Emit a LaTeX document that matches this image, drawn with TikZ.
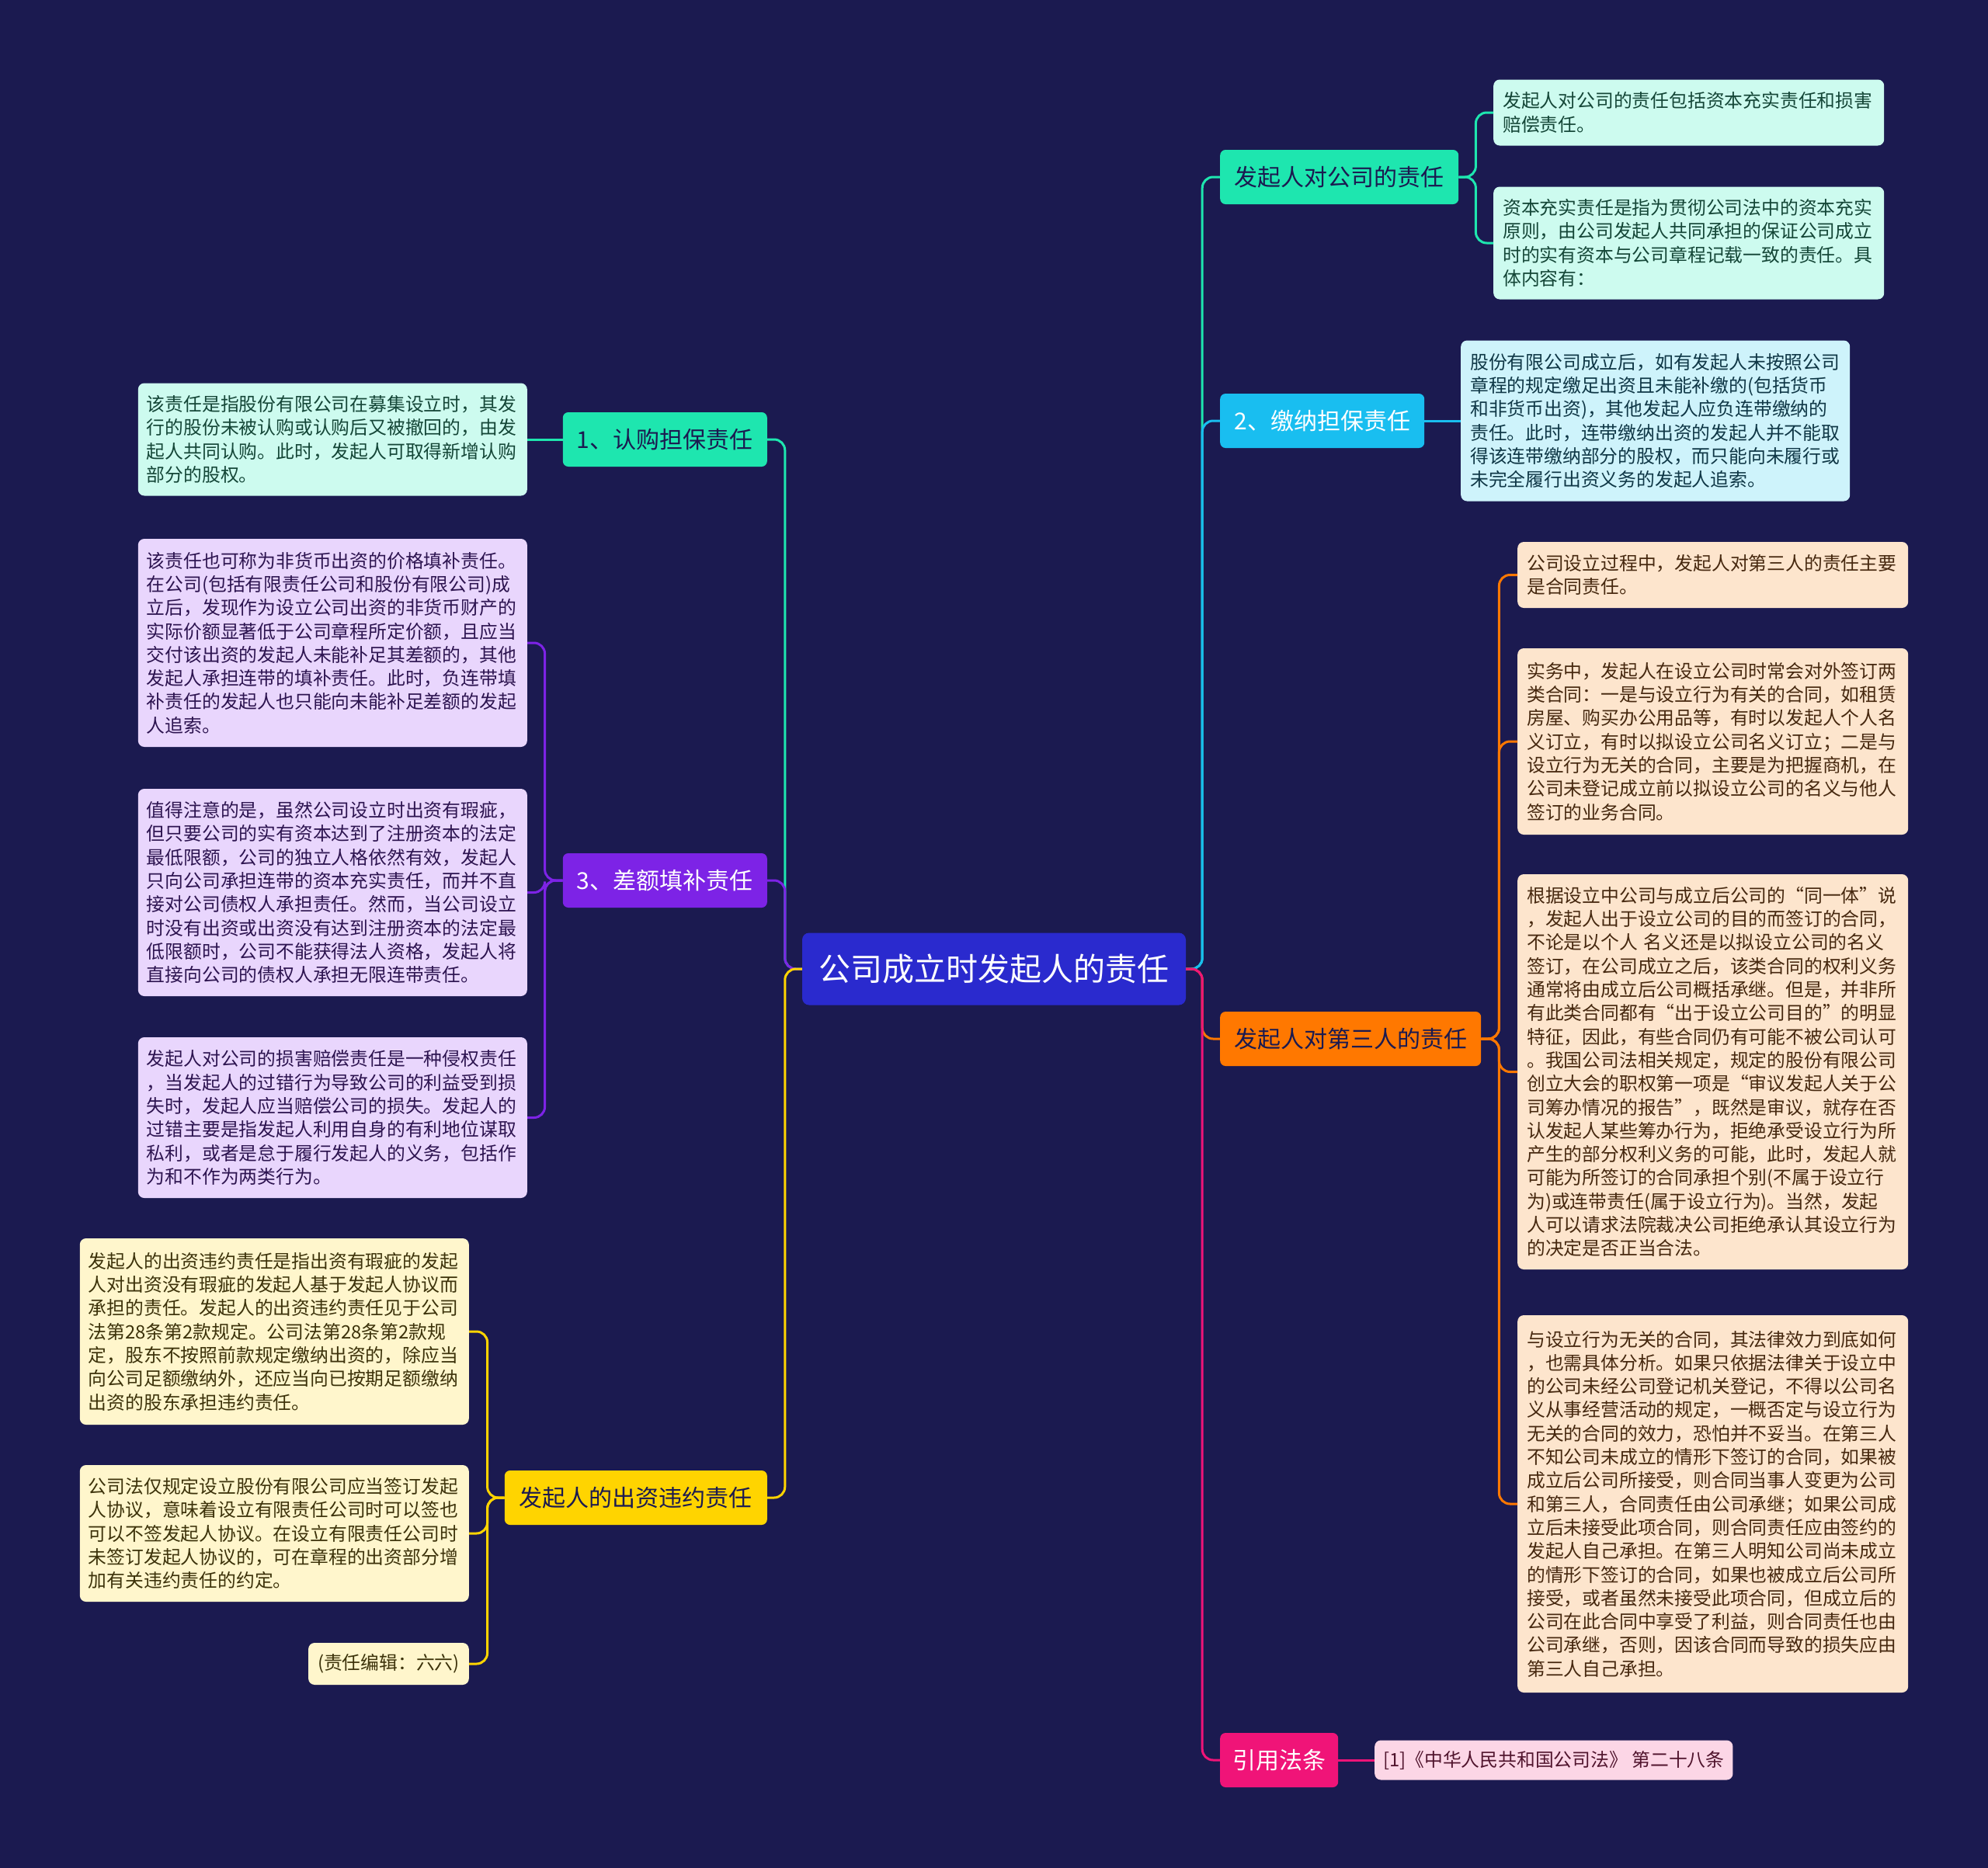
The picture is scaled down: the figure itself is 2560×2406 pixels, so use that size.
\documentclass[tikz,border=0pt]{standalone}
\usepackage{fontspec}
\setmainfont{Noto Sans CJK SC}

% 颜色
\definecolor{bgnavy}{RGB}{27,26,80}
\definecolor{rootblue}{RGB}{42,42,206}
\definecolor{shen}{RGB}{27,26,80}
\definecolor{qing}{RGB}{30,230,175}
\definecolor{lan}{RGB}{25,190,240}
\definecolor{cheng}{RGB}{255,120,0}
\definecolor{hong}{RGB}{240,20,120}
\definecolor{zi}{RGB}{125,35,230}
\definecolor{huang}{RGB}{255,212,0}
\definecolor{qingye}{RGB}{205,251,239}
\definecolor{qingzi}{RGB}{20,70,55}
\definecolor{lanye}{RGB}{206,243,251}
\definecolor{lanzi}{RGB}{15,55,70}
\definecolor{ziye}{RGB}{233,214,253}
\definecolor{zizi}{RGB}{45,20,80}
\definecolor{huangye}{RGB}{255,246,204}
\definecolor{huangzi}{RGB}{60,50,10}
\definecolor{chengye}{RGB}{253,229,205}
\definecolor{chengzi}{RGB}{70,40,15}
\definecolor{hongye}{RGB}{252,214,230}
\definecolor{hongzi}{RGB}{80,20,45}

\tikzset{
  zhuti/.style={rounded corners=9, fill=rootblue, text=white, minimum width=494,
    minimum height=93, font=\fontsize{41}{48}\selectfont},
  fenzhi/.style={rounded corners=7, minimum height=70, inner xsep=14,
    font=\fontsize{30}{36}\selectfont},
  yezi/.style={rounded corners=8, align=left, inner xsep=11,
    font=\fontsize{23.8}{30.3}\selectfont},
  lian/.style={line width=3, rounded corners=14},
}

\begin{document}
\begin{tikzpicture}[x=1pt, y=-1pt]
    % 背景
    \fill[bgnavy] (0,0) rectangle (2560,2406);
    \useasboundingbox (0,0) rectangle (2560,2406);

    % 中心主题
    \node[zhuti] (root) at (1280,1248) {公司成立时发起人的责任};

    % 右侧分支
    \node[fenzhi, fill=qing, text=shen, minimum width=307, anchor=west] (gongsi) at (1571,228) {发起人对公司的责任};
    \node[fenzhi, fill=lan, text=white, minimum width=263, anchor=west] (jiaona) at (1571,542) {2、缴纳担保责任};
    \node[fenzhi, fill=cheng, text=shen, minimum width=336, anchor=west] (disan) at (1571,1338) {发起人对第三人的责任};
    \node[fenzhi, fill=hong, text=white, minimum width=152, anchor=west] (fatiao) at (1571,2267) {引用法条};

    % 左侧分支
    \node[fenzhi, fill=qing, text=shen, minimum width=263, anchor=east] (rengou) at (988,566) {1、认购担保责任};
    \node[fenzhi, fill=zi, text=white, minimum width=263, anchor=east] (chae) at (988,1134) {3、差额填补责任};
    \node[fenzhi, fill=huang, text=shen, minimum width=338, anchor=east] (weiyue) at (988,1929) {发起人的出资违约责任};

    % 右侧叶子
    \node[yezi, fill=qingye, text=qingzi, text width=479, inner xsep=12,
          minimum height=85, anchor=west] (gongsiA) at (1923,145)
        {发起人对公司的责任包括资本充实责任和损害\\赔偿责任。};
    \node[yezi, fill=qingye, text=qingzi, text width=479, inner xsep=12,
          minimum height=145, anchor=west] (gongsiB) at (1923,313)
        {资本充实责任是指为贯彻公司法中的资本充实\\原则，由公司发起人共同承担的保证公司成立\\时的实有资本与公司章程记载一致的责任。具\\体内容有：};
    \node[yezi, fill=lanye, text=lanzi, text width=477, inner xsep=12,
          minimum height=207, anchor=west] (jiaonaA) at (1881,542)
        {股份有限公司成立后，如有发起人未按照公司\\章程的规定缴足出资且未能补缴的(包括货币\\和非货币出资)，其他发起人应负连带缴纳的\\责任。此时，连带缴纳出资的发起人并不能取\\得该连带缴纳部分的股权，而只能向未履行或\\未完全履行出资义务的发起人追索。};
    \node[yezi, fill=chengye, text=chengzi, text width=479, inner xsep=12,
          minimum height=85, anchor=west] (disanA) at (1954,740.5)
        {公司设立过程中，发起人对第三人的责任主要\\是合同责任。};
    \node[yezi, fill=chengye, text=chengzi, text width=479, inner xsep=12,
          minimum height=240, anchor=west] (disanB) at (1954,955)
        {实务中，发起人在设立公司时常会对外签订两\\类合同：一是与设立行为有关的合同，如租赁\\房屋、购买办公用品等，有时以发起人个人名\\义订立，有时以拟设立公司名义订立；二是与\\设立行为无关的合同，主要是为把握商机，在\\公司未登记成立前以拟设立公司的名义与他人\\签订的业务合同。};
    \node[yezi, fill=chengye, text=chengzi, text width=479, inner xsep=12,
          minimum height=509, anchor=west] (disanC) at (1954,1380.5)
        {根据设立中公司与成立后公司的“同一体”说\\，发起人出于设立公司的目的而签订的合同，\\不论是以个人 名义还是以拟设立公司的名义\\签订，在公司成立之后，该类合同的权利义务\\通常将由成立后公司概括承继。但是，并非所\\有此类合同都有“出于设立公司目的”的明显\\特征，因此，有些合同仍有可能不被公司认可\\。我国公司法相关规定，规定的股份有限公司\\创立大会的职权第一项是“审议发起人关于公\\司筹办情况的报告”，既然是审议，就存在否\\认发起人某些筹办行为，拒绝承受设立行为所\\产生的部分权利义务的可能，此时，发起人就\\可能为所签订的合同承担个别(不属于设立行\\为)或连带责任(属于设立行为)。当然，发起\\人可以请求法院裁决公司拒绝承认其设立行为\\的决定是否正当合法。};
    \node[yezi, fill=chengye, text=chengzi, text width=479, inner xsep=12,
          minimum height=486, anchor=west] (disanD) at (1954,1937)
        {与设立行为无关的合同，其法律效力到底如何\\，也需具体分析。如果只依据法律关于设立中\\的公司未经公司登记机关登记，不得以公司名\\义从事经营活动的规定，一概否定与设立行为\\无关的合同的效力，恐怕并不妥当。在第三人\\不知公司未成立的情形下签订的合同，如果被\\成立后公司所接受，则合同当事人变更为公司\\和第三人，合同责任由公司承继；如果公司成\\立后未接受此项合同，则合同责任应由签约的\\发起人自己承担。在第三人明知公司尚未成立\\的情形下签订的合同，如果也被成立后公司所\\接受，或者虽然未接受此项合同，但成立后的\\公司在此合同中享受了利益，则合同责任也由\\公司承继，否则，因该合同而导致的损失应由\\第三人自己承担。};
    \node[yezi, fill=hongye, text=hongzi, inner xsep=11,
          minimum height=51, anchor=west] (fatiaoA) at (1770,2267)
        {[1]《中华人民共和国公司法》 第二十八条};

    % 左侧叶子
    \node[yezi, fill=qingye, text=qingzi, text width=479,
          minimum height=145, anchor=east] (rengouA) at (679,566)
        {该责任是指股份有限公司在募集设立时，其发\\行的股份未被认购或认购后又被撤回的，由发\\起人共同认购。此时，发起人可取得新增认购\\部分的股权。};
    \node[yezi, fill=ziye, text=zizi, text width=479,
          minimum height=268, anchor=east] (chaeA) at (679,828)
        {该责任也可称为非货币出资的价格填补责任。\\在公司(包括有限责任公司和股份有限公司)成\\立后，发现作为设立公司出资的非货币财产的\\实际价额显著低于公司章程所定价额，且应当\\交付该出资的发起人未能补足其差额的，其他\\发起人承担连带的填补责任。此时，负连带填\\补责任的发起人也只能向未能补足差额的发起\\人追索。};
    \node[yezi, fill=ziye, text=zizi, text width=479,
          minimum height=267, anchor=east] (chaeB) at (679,1149.5)
        {值得注意的是，虽然公司设立时出资有瑕疵，\\但只要公司的实有资本达到了注册资本的法定\\最低限额，公司的独立人格依然有效，发起人\\只向公司承担连带的资本充实责任，而并不直\\接对公司债权人承担责任。然而，当公司设立\\时没有出资或出资没有达到注册资本的法定最\\低限额时，公司不能获得法人资格，发起人将\\直接向公司的债权人承担无限连带责任。};
    \node[yezi, fill=ziye, text=zizi, text width=479,
          minimum height=207, anchor=east] (chaeC) at (679,1439.5)
        {发起人对公司的损害赔偿责任是一种侵权责任\\，当发起人的过错行为导致公司的利益受到损\\失时，发起人应当赔偿公司的损失。发起人的\\过错主要是指发起人利用自身的有利地位谋取\\私利，或者是怠于履行发起人的义务，包括作\\为和不作为两类行为。};
    \node[yezi, fill=huangye, text=huangzi, text width=479,
          minimum height=240, anchor=east] (weiyueA) at (604,1715)
        {发起人的出资违约责任是指出资有瑕疵的发起\\人对出资没有瑕疵的发起人基于发起人协议而\\承担的责任。发起人的出资违约责任见于公司\\法第28条第2款规定。公司法第28条第2款规\\定，股东不按照前款规定缴纳出资的，除应当\\向公司足额缴纳外，还应当向已按期足额缴纳\\出资的股东承担违约责任。};
    \node[yezi, fill=huangye, text=huangzi, text width=479,
          minimum height=176, anchor=east] (weiyueB) at (604,1975)
        {公司法仅规定设立股份有限公司应当签订发起\\人协议，意味着设立有限责任公司时可以签也\\可以不签发起人协议。在设立有限责任公司时\\未签订发起人协议的，可在章程的出资部分增\\加有关违约责任的约定。};
    \node[yezi, fill=huangye, text=huangzi, inner xsep=12,
          minimum height=54, anchor=east] (weiyueC) at (604,2143)
        {(责任编辑：六六)};

    % 中心到分支的连线
    \draw[lian, qing] (root.east) -- ++(21,0) |- (gongsi.west);
    \draw[lian, lan] (root.east) -- ++(21,0) |- (jiaona.west);
    \draw[lian, cheng] (root.east) -- ++(21,0) |- (disan.west);
    \draw[lian, hong] (root.east) -- ++(21,0) |- (fatiao.west);
    \draw[lian, qing] (root.west) -- ++(-22,0) |- (rengou.east);
    \draw[lian, zi] (root.west) -- ++(-22,0) |- (chae.east);
    \draw[lian, huang] (root.west) -- ++(-22,0) |- (weiyue.east);

    % 分支到叶子的连线
    \foreach \y in {gongsiA, gongsiB}
        \draw[lian, qing] (gongsi.east) -- ++(22,0) |- (\y.west);
    \draw[lian, lan] (jiaona.east) -- (jiaonaA.west);
    \foreach \y in {disanA, disanB, disanC, disanD}
        \draw[lian, cheng] (disan.east) -- ++(23,0) |- (\y.west);
    \draw[lian, hong] (fatiao.east) -- (fatiaoA.west);
    \draw[lian, qing] (rengou.west) -- (rengouA.east);
    \foreach \y in {chaeA, chaeB, chaeC}
        \draw[lian, zi] (chae.west) -- ++(-23,0) |- (\y.east);
    \foreach \y in {weiyueA, weiyueB, weiyueC}
        \draw[lian, huang] (weiyue.west) -- ++(-22,0) |- (\y.east);
\end{tikzpicture}
\end{document}
